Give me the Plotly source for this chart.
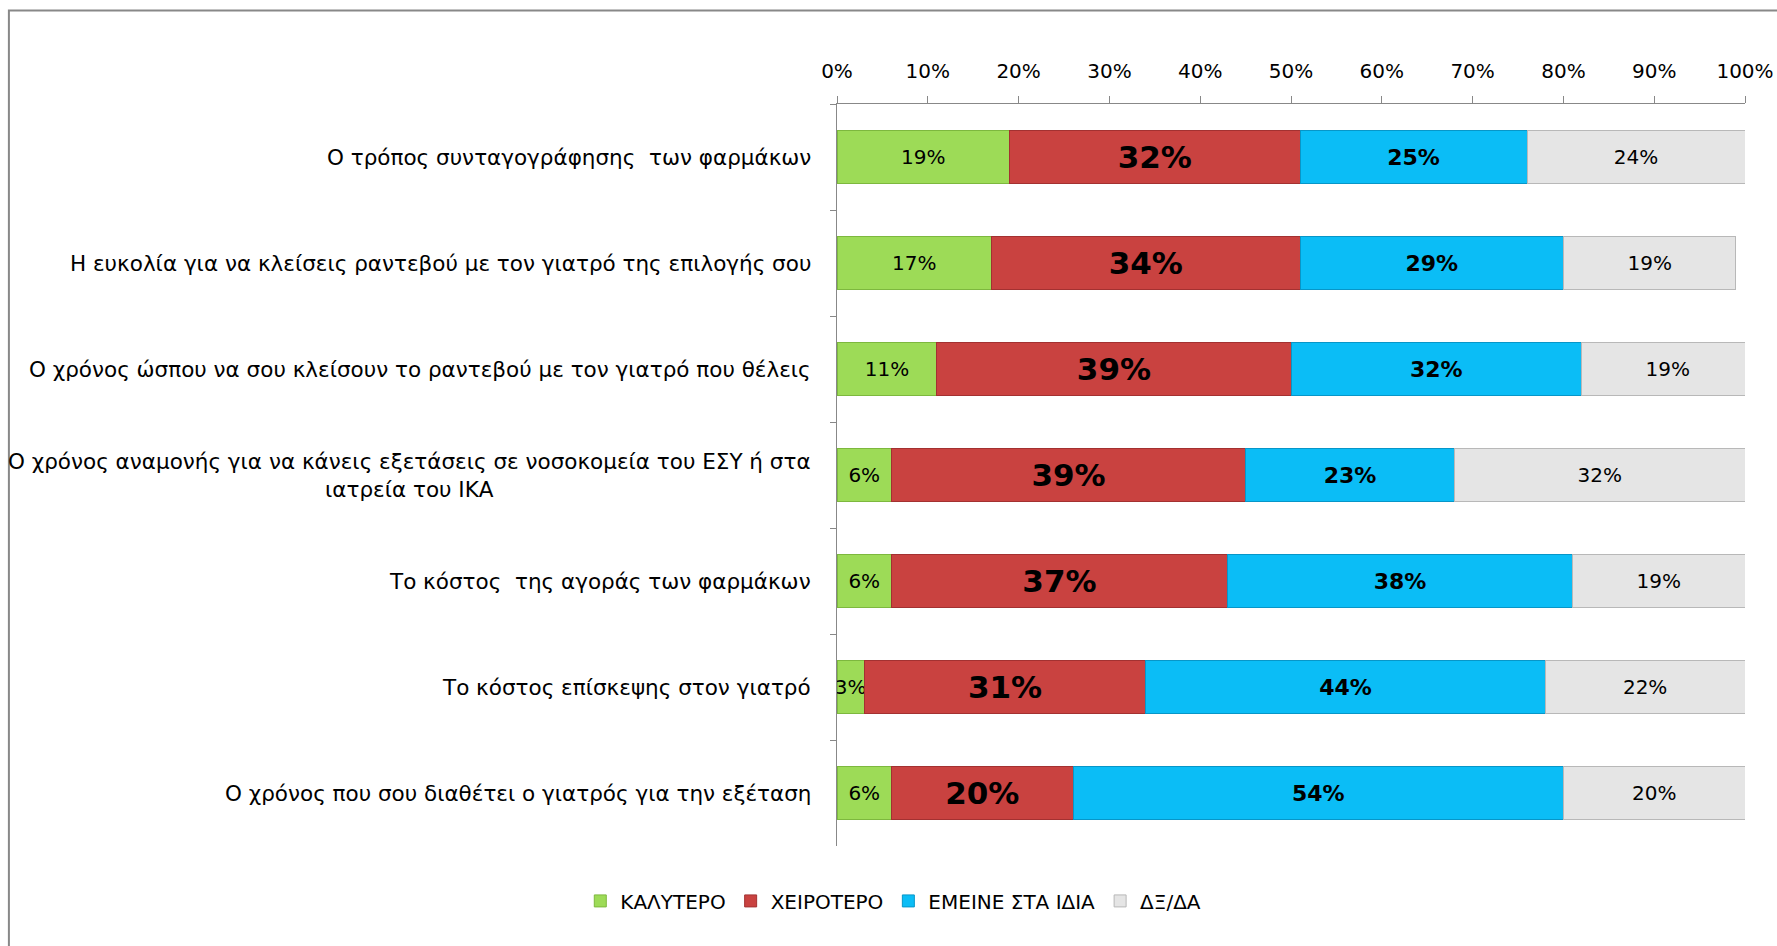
import plotly.graph_objects as go

categories = [
    "Ο τρόπος συνταγογράφησης  των φαρμάκων",
    "Η ευκολία για να κλείσεις ραντεβού με τον γιατρό της επιλογής σου",
    "Ο χρόνος ώσπου να σου κλείσουν το ραντεβού με τον γιατρό που θέλεις",
    "Ο χρόνος αναμονής για να κάνεις εξετάσεις σε νοσοκομεία του ΕΣΥ ή στα<br>ιατρεία του ΙΚΑ",
    "Το κόστος  της αγοράς των φαρμάκων",
    "Το κόστος επίσκεψης στον γιατρό",
    "Ο χρόνος που σου διαθέτει ο γιατρός για την εξέταση",
]
better = [19, 17, 11, 6, 6, 3, 6]
worse = [32, 34, 39, 39, 37, 31, 20]
same = [25, 29, 32, 23, 38, 44, 54]
dk = [24, 19, 19, 32, 19, 22, 20]
series_names = ["ΚΑΛΥΤΕΡΟ", "ΧΕΙΡΟΤΕΡΟ", "ΕΜΕΙΝΕ ΣΤΑ ΙΔΙΑ", "ΔΞ/ΔΑ"]
x_ticks = [0, 10, 20, 30, 40, 50, 60, 70, 80, 90, 100]

FONT = "DejaVu Sans"
series = [better, worse, same, dk]
colors = ["#9DDB57", "#C94240", "#0BBDF6", "#E5E5E5"]
lines = ["#7DB83E", "#A33131", "#0796C8", "#B8B8B8"]
tfonts = [
    dict(family=FONT, size=20, color="black"),
    dict(family=FONT, size=31, color="black", weight="bold"),
    dict(family=FONT, size=22, color="black", weight="bold"),
    dict(family=FONT, size=20, color="black"),
]

fig = go.Figure()
for name, vals, c, lc, tf in zip(series_names, series, colors, lines, tfonts):
    fig.add_trace(go.Bar(
        y=categories, x=vals, orientation="h", name=name,
        marker=dict(color=c, line=dict(color=lc, width=1)),
        text=[f"{v}%" for v in vals], textposition="inside", textangle=0,
        insidetextanchor="middle", textfont=tf, constraintext="none",
        hoverinfo="skip",
    ))

# category labels as centred multi-line annotations
for cat in categories:
    fig.add_annotation(
        x=-0.026, xref="paper", y=cat, yref="y", text=cat,
        xanchor="right", yanchor="middle", align="center", showarrow=False,
        font=dict(family=FONT, size=21.5, color="black"),
    )

# outer chart frame (top and left visible)
fig.add_shape(type="rect", xref="paper", yref="paper",
              x0=-0.912, x1=1.06, y0=-0.2, y1=1.126,
              line=dict(color="#888888", width=2), layer="below")

fig.update_layout(
    width=1777, height=946,
    barmode="stack", bargap=0.5,
    plot_bgcolor="white", paper_bgcolor="white",
    margin=dict(l=837, r=32, t=104, b=100, autoexpand=False),
    showlegend=True,
    legend=dict(orientation="h", x=0.062, xanchor="center", y=-0.074,
                yanchor="middle", font=dict(family=FONT, size=20, color="black"),
                traceorder="normal"),
    xaxis=dict(side="top", range=[0, 100], tickvals=x_ticks,
               ticktext=[f"{t}%" for t in x_ticks], showgrid=False,
               zeroline=False, showline=True, linecolor="#888888", linewidth=1,
               ticks="outside", ticklen=7, tickcolor="#888888",
               ticklabelstandoff=10, automargin=False, ticklabeloverflow="allow",
               tickfont=dict(family=FONT, size=20, color="black")),
    yaxis=dict(autorange="reversed", showticklabels=False, showgrid=False,
               showline=True, linecolor="#888888", linewidth=1,
               ticks="outside", tickson="boundaries", ticklen=6,
               tickcolor="#888888", automargin=False),
    font=dict(family=FONT),
)

fig.write_html("out.html", config={"displayModeBar": False, "responsive": False},
               post_script="document.body.style.margin='0';")
